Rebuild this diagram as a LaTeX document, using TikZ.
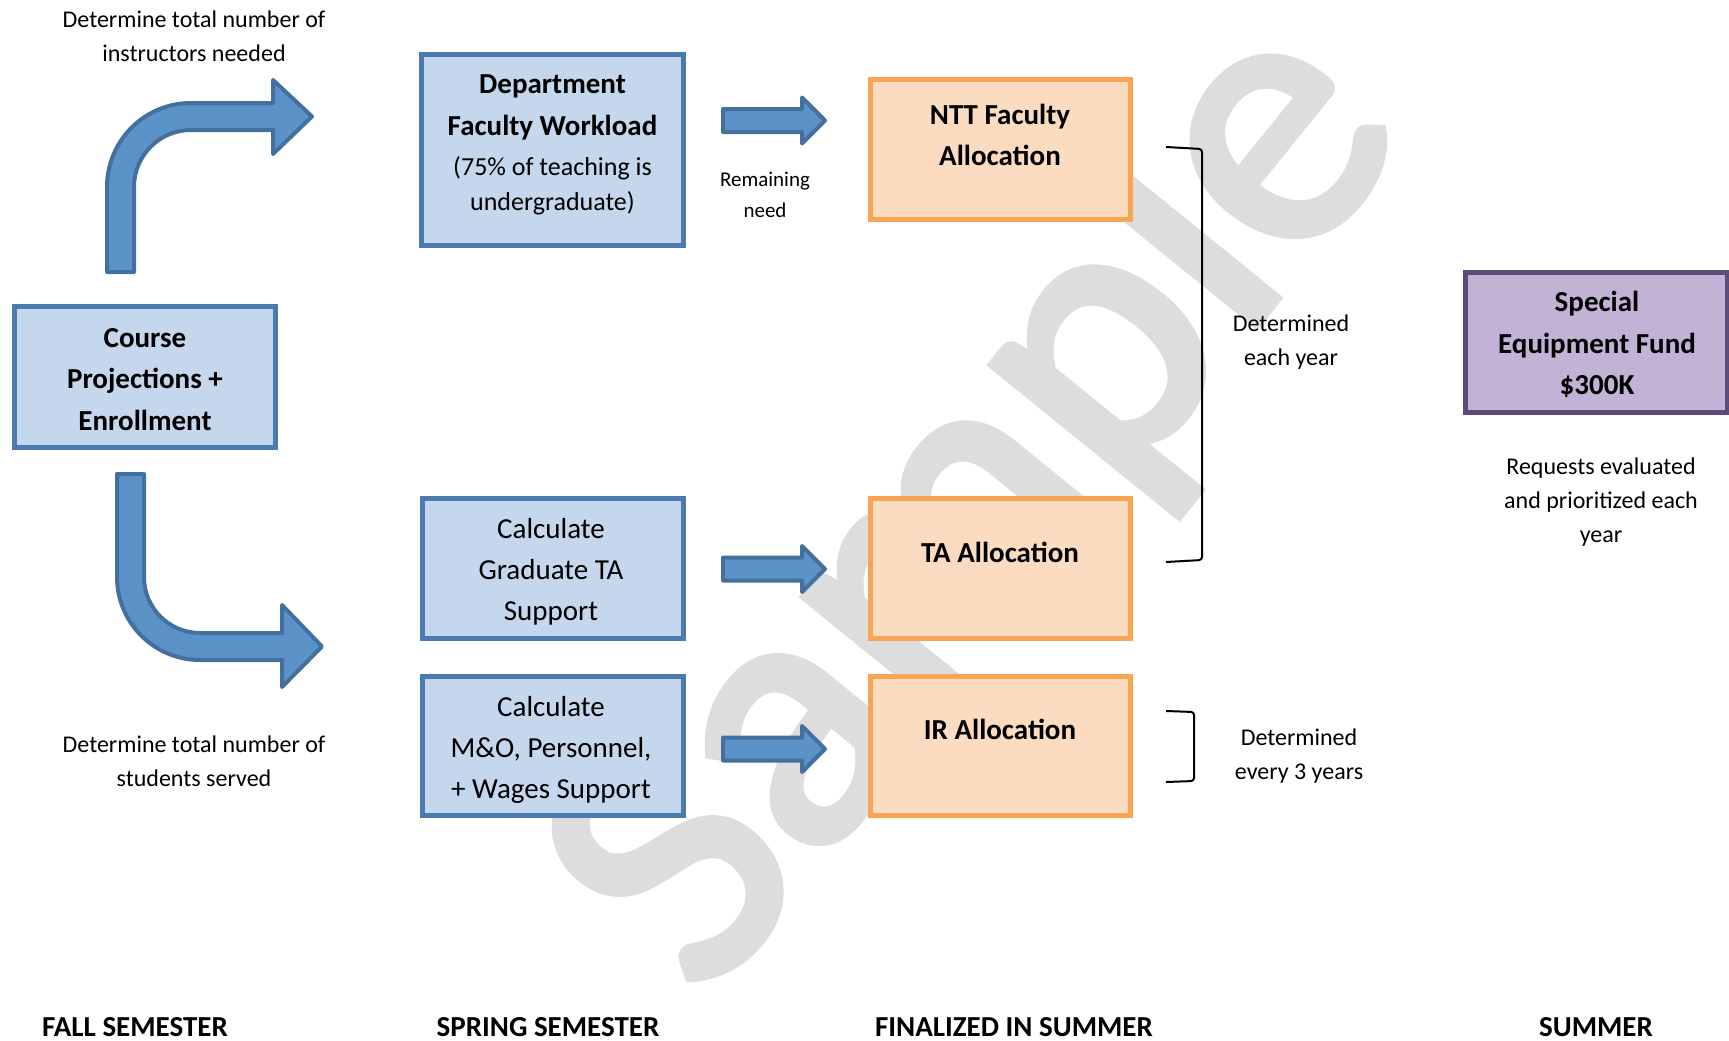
\documentclass[tikz,border=0pt]{standalone}
\usepackage{fontspec}
\setmainfont{Carlito}
\newfontfamily\wmfont[FakeBold=2.5]{Carlito}
\definecolor{bfill}{HTML}{C5D7EC}
\definecolor{bline}{HTML}{4A7AAE}
\definecolor{afill}{HTML}{5B93C9}
\definecolor{aline}{HTML}{44709E}
\definecolor{ofill}{HTML}{FCDCC0}
\definecolor{oline}{HTML}{F8A553}
\definecolor{pfill}{HTML}{C1B2D6}
\definecolor{pline}{HTML}{5C4A7A}
\definecolor{wmark}{HTML}{DDDDDD}
\begin{document}
\begin{tikzpicture}[x=1pt,y=-1pt,
  boxbase/.style={rectangle, inner sep=0pt, line width=4.5pt},
  bluebox/.style={boxbase, draw=bline, fill=bfill},
  orangebox/.style={boxbase, draw=oline, fill=ofill},
  purplebox/.style={boxbase, draw=pline, fill=pfill},
  blockarrow/.style={fill=afill, draw=aline, line width=4pt, line join=round},
  smalltext/.style={align=center, inner sep=0pt, font=\fontsize{24}{34}\selectfont},
  tinytext/.style={align=center, inner sep=0pt, font=\fontsize{21}{31}\selectfont},
  boldtext/.style={align=center, inner sep=0pt, font=\fontsize{29}{41.5}\selectfont\bfseries},
  regtext/.style={align=center, inner sep=0pt, font=\fontsize{29}{41}\selectfont},
  deptreg/.style={align=center, inner sep=0pt, font=\fontsize{26}{35}\selectfont},
  semtext/.style={inner sep=0pt, font=\fontsize{29}{32}\selectfont\bfseries},
  bracket/.style={draw=black, line width=2pt, rounded corners=3pt}
]
\useasboundingbox (0,0) rectangle (1729,1041);
\fill[white] (0,0) rectangle (1729,1041);

% watermark
\node[text=wmark, inner sep=0pt, rotate=51, font=\fontsize{375}{375}\wmfont] (wm) at (981,505) {Sample};

% boxes
\node[bluebox, minimum width=261pt, minimum height=141pt] (course) at (145,377) {};
\node[bluebox, minimum width=262pt, minimum height=191pt] (dept) at (552.5,150) {};
\node[bluebox, minimum width=261pt, minimum height=140pt] (calcta) at (553,568.5) {};
\node[bluebox, minimum width=261pt, minimum height=139pt] (calcmo) at (553,746) {};
\node[orangebox, minimum width=260pt, minimum height=140pt] (ntt) at (1000.5,149.5) {};
\node[orangebox, minimum width=260pt, minimum height=140pt] (ta) at (1000.5,568.5) {};
\node[orangebox, minimum width=260pt, minimum height=139pt] (ir) at (1000.5,746) {};
\node[purplebox, minimum width=262pt, minimum height=140pt] (spec) at (1596.5,342.5) {};

% box texts
\node[boldtext] (courset) at (145,379.5) {Course\\Projections +\\Enrollment};
\node[boldtext] (deptt) at (552.5,107.5) {Department\\Faculty Workload};
\node[deptreg] (deptr) at (552.5,185.5) {(75\% of teaching is\\undergraduate)};
\node[regtext] (calctat) at (551,571.5) {Calculate\\Graduate TA\\Support};
\node[regtext] (calcmot) at (551,749.5) {Calculate\\M\&O, Personnel,\\+ Wages Support};
\node[boldtext] (nttt) at (1000,135) {NTT Faculty\\Allocation};
\node[boldtext] (tat) at (1000,552) {TA Allocation};
\node[boldtext] (irt) at (1000,729) {IR Allocation};
\node[boldtext] (spect) at (1597,344.5) {Special\\Equipment Fund\\\$300K};

% free texts
\node[smalltext] (instr) at (194,36) {Determine total number of\\instructors needed};
\node[smalltext] (stud) at (194,761) {Determine total number of\\students served};
\node[tinytext] (remain) at (765,194.5) {Remaining\\need};
\node[smalltext] (detyear) at (1291,342) {Determined\\each year};
\node[smalltext] (det3) at (1299,756) {Determined\\every 3 years};
\node[smalltext] (req) at (1601,502) {Requests evaluated\\and prioritized each\\year};

% semester labels
\node[semtext] (fall) at (135,1027) {FALL SEMESTER};
\node[semtext] (spring) at (548,1027) {SPRING SEMESTER};
\node[semtext] (final) at (1014,1027) {FINALIZED IN SUMMER};
\node[semtext] (summer) at (1596,1027) {SUMMER};

% bent arrow up-right
\draw[blockarrow] (107,272) -- (107,187)
  .. controls (107,140.6) and (144.6,103) .. (191,103)
  -- (273,103) -- (273,80) -- (312,116.5) -- (273,154) -- (273,130) -- (191,130)
  .. controls (159.5,130) and (134,155.5) .. (134,187)
  -- (134,272) -- cycle;

% bent arrow down-right
\draw[blockarrow] (117,474) -- (117,577)
  .. controls (117,622.8) and (154.2,660) .. (200,660)
  -- (282,660) -- (282,687) -- (322,646.5) -- (282,605) -- (282,633) -- (200,633)
  .. controls (169.1,633) and (144,607.9) .. (144,577)
  -- (144,474) -- cycle;

% straight arrows
\foreach \c/\n in {120.5/a1, 569/a2, 749/a3}{
  \draw[blockarrow] (723,\c-11.5) -- (802,\c-11.5) -- (802,\c-23) -- (825,\c)
    -- (802,\c+23) -- (802,\c+11.5) -- (723,\c+11.5) -- cycle;
}

% brackets
\coordinate (b1a) at (1166,147);
\coordinate (b1b) at (1202,149);
\coordinate (b1c) at (1202,560);
\coordinate (b1d) at (1166,562);
\draw[bracket] (b1a) -- (b1b) -- (b1c) -- (b1d);
\coordinate (b2a) at (1166,711);
\coordinate (b2b) at (1194,712);
\coordinate (b2c) at (1194,781);
\coordinate (b2d) at (1166,782);
\draw[bracket] (b2a) -- (b2b) -- (b2c) -- (b2d);
\end{tikzpicture}
\end{document}
